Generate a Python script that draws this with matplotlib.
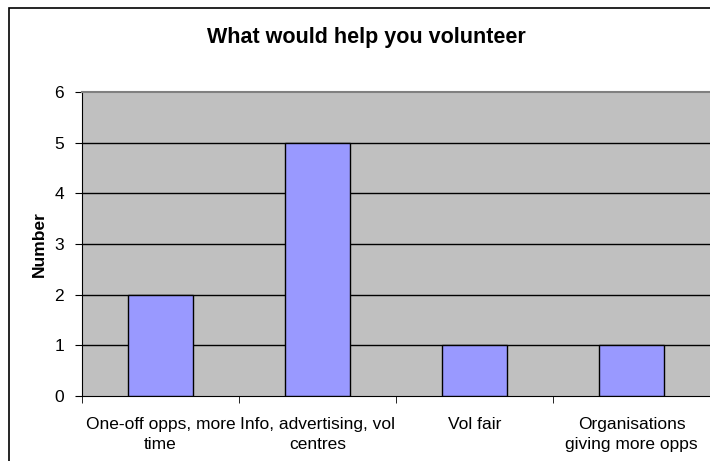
import matplotlib.pyplot as plt
from matplotlib.patches import Rectangle
import numpy as np

plt.rcParams['font.family'] = ['Liberation Sans', 'DejaVu Sans']

categories = ['One-off opps, more\ntime', 'Info, advertising, vol\ncentres',
              'Vol fair', 'Organisations\ngiving more opps']
counts = [2, 5, 1, 1]
y_ticks = [0, 1, 2, 3, 4, 5, 6]


def plot_chart():
    fig = plt.figure(figsize=(7.1, 4.61), dpi=100)

    # outer chart border
    fig.patches.append(Rectangle((9 / 710, -0.1), 1.2, (461 - 8) / 461 + 0.1,
                                 transform=fig.transFigure, fill=False,
                                 edgecolor='black', linewidth=1.2))

    ax = fig.add_axes([82 / 710, 65 / 461, 628 / 710, 304 / 461])
    ax.set_facecolor('#C0C0C0')

    x = np.arange(len(categories))
    ax.bar(x, counts, width=0.41, color='#9999FF', edgecolor='black',
           linewidth=1, zorder=3)

    ax.set_xlim(-0.5, len(categories) - 0.5)
    ax.set_ylim(0, 6)
    ax.set_yticks(y_ticks)
    for t in y_ticks[1:-1]:
        ax.axhline(t, color='black', linewidth=1, zorder=1)

    ax.set_xticks(x)
    ax.set_xticklabels(categories, fontsize=12.5, linespacing=1.45)
    ax.set_xticks(np.arange(-0.5, len(categories)), minor=True)
    ax.tick_params(axis='x', which='major', length=0, pad=15)
    ax.tick_params(axis='x', which='minor', length=5, direction='out',
                   color='black')
    ax.tick_params(axis='y', length=5, direction='out', labelsize=12.5,
                   pad=8, color='black')

    ax.spines['left'].set_color('black')
    ax.spines['bottom'].set_color('black')
    ax.spines['top'].set_color('#808080')
    ax.spines['top'].set_linewidth(1.5)
    ax.spines['right'].set_visible(False)

    ax.set_ylabel('Number', fontsize=12.5, fontweight='bold', labelpad=5)
    fig.text(366 / 710, 1 - 37 / 461, 'What would help you volunteer',
             fontsize=15.5, fontweight='bold', ha='center', va='center')

    fig.savefig('out.png', dpi=100)
    plt.close(fig)


if __name__ == "__main__":
    plot_chart()
